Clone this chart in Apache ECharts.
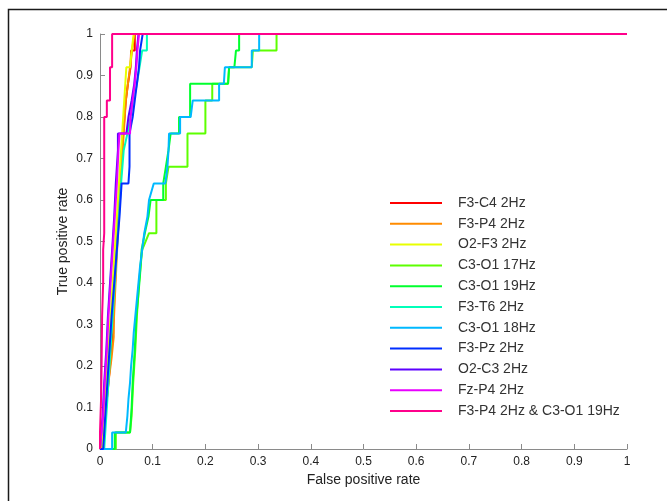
<!DOCTYPE html>
<html lang="en">
<head>
    <meta charset="UTF-8">
    <title>ROC curves</title>
    <script src="https://cdn.jsdelivr.net/npm/echarts@6/dist/echarts.min.js"></script>
    <style>
        html, body { margin: 0; padding: 0; background: #fff; }
        #chart-container { width: 667px; height: 501px; }
    </style>
</head>
<body>
    <div id="chart-container"></div>
    <script>
        // legend names, in plotting order
        var names = ['F3-C4 2Hz', 'F3-P4 2Hz', 'O2-F3 2Hz', 'C3-O1 17Hz', 'C3-O1 19Hz', 'F3-T6 2Hz',
            'C3-O1 18Hz', 'F3-Pz 2Hz', 'O2-C3 2Hz', 'Fz-P4 2Hz', 'F3-P4 2Hz & C3-O1 19Hz'];
        // hsv(11) colours
        var colors = ['#ff0000', '#ff8b00', '#e8ff00', '#5dff00', '#00ff2e', '#00ffb9',
            '#00b9ff', '#002eff', '#5d00ff', '#e800ff', '#ff008b'];

        // [false positive rate, true positive rate]
        var rocF3C4 = [[0, 0], [0.004, 0], [0.007, 0.04], [0.01, 0.08], [0.013, 0.12], [0.016, 0.16], [0.019, 0.2],
            [0.022, 0.24], [0.025, 0.28], [0.027, 0.36], [0.03, 0.44], [0.033, 0.52], [0.036, 0.6], [0.04, 0.68],
            [0.044, 0.76], [0.049, 0.84], [0.053, 0.88], [0.058, 0.92], [0.059, 0.96], [0.066, 0.96], [0.066, 1], [1, 1]];
        var rocF3P4 = [[0, 0], [0.005, 0], [0.01, 0.08], [0.016, 0.16], [0.022, 0.22], [0.026, 0.27], [0.026, 0.3],
            [0.028, 0.36], [0.031, 0.44], [0.034, 0.52], [0.037, 0.6], [0.041, 0.68], [0.045, 0.76], [0.049, 0.84],
            [0.053, 0.88], [0.057, 0.92], [0.061, 0.96], [0.065, 1], [1, 1]];
        var rocO2F3 = [[0, 0], [0.004, 0], [0.008, 0.08], [0.012, 0.16], [0.016, 0.24], [0.02, 0.32], [0.024, 0.4],
            [0.028, 0.48], [0.032, 0.56], [0.036, 0.64], [0.04, 0.72], [0.044, 0.8], [0.048, 0.88], [0.05, 0.92],
            [0.057, 0.92], [0.06, 0.96], [0.064, 1], [1, 1]];
        var roc17Hz = [[0, 0], [0.03, 0], [0.03, 0.04], [0.057, 0.04], [0.06, 0.08], [0.063, 0.16], [0.067, 0.24],
            [0.07, 0.32], [0.074, 0.4], [0.08, 0.48], [0.093, 0.52], [0.107, 0.52], [0.107, 0.6], [0.125, 0.6],
            [0.125, 0.64], [0.13, 0.68], [0.166, 0.68], [0.166, 0.76], [0.2, 0.76], [0.2, 0.84], [0.213, 0.84],
            [0.213, 0.88], [0.243, 0.88], [0.245, 0.92], [0.288, 0.92], [0.29, 0.96], [0.335, 0.96], [0.335, 1], [1, 1]];
        var roc19Hz = [[0, 0], [0.028, 0], [0.028, 0.04], [0.057, 0.04], [0.06, 0.1], [0.062, 0.16], [0.066, 0.24],
            [0.069, 0.32], [0.072, 0.36], [0.076, 0.42], [0.079, 0.48], [0.085, 0.52], [0.092, 0.56], [0.096, 0.6],
            [0.12, 0.6], [0.12, 0.64], [0.125, 0.68], [0.13, 0.72], [0.134, 0.76], [0.15, 0.76], [0.15, 0.8],
            [0.171, 0.8], [0.171, 0.88], [0.243, 0.88], [0.245, 0.92], [0.255, 0.92], [0.258, 0.96], [0.264, 0.96],
            [0.264, 1], [1, 1]];
        var rocF3T6 = [[0, 0], [0.008, 0], [0.012, 0.08], [0.016, 0.16], [0.02, 0.24], [0.024, 0.32], [0.028, 0.4],
            [0.032, 0.48], [0.036, 0.56], [0.04, 0.64], [0.045, 0.72], [0.052, 0.76], [0.058, 0.8], [0.064, 0.84],
            [0.07, 0.88], [0.075, 0.92], [0.08, 0.96], [0.089, 0.96], [0.089, 1], [1, 1]];
        var roc18Hz = [[0, 0], [0.023, 0], [0.023, 0.04], [0.049, 0.04], [0.052, 0.08], [0.054, 0.12], [0.057, 0.16],
            [0.059, 0.2], [0.062, 0.24], [0.064, 0.28], [0.067, 0.32], [0.07, 0.36], [0.073, 0.4], [0.076, 0.44],
            [0.08, 0.48], [0.084, 0.52], [0.09, 0.56], [0.093, 0.6], [0.102, 0.64], [0.124, 0.64], [0.128, 0.68],
            [0.13, 0.72], [0.131, 0.76], [0.152, 0.76], [0.152, 0.8], [0.172, 0.8], [0.176, 0.84], [0.226, 0.84],
            [0.226, 0.88], [0.235, 0.88], [0.237, 0.92], [0.288, 0.92], [0.288, 0.96], [0.302, 0.96], [0.302, 1], [1, 1]];
        var rocF3Pz = [[0, 0], [0.006, 0], [0.01, 0.08], [0.014, 0.16], [0.018, 0.24], [0.022, 0.32], [0.027, 0.4],
            [0.032, 0.48], [0.037, 0.56], [0.041, 0.64], [0.054, 0.64], [0.056, 0.68], [0.056, 0.76], [0.062, 0.8],
            [0.066, 0.84], [0.07, 0.88], [0.074, 0.92], [0.076, 0.96], [0.079, 0.96], [0.081, 1], [1, 1]];
        var rocO2C3 = [[0, 0], [0.002, 0], [0.005, 0.08], [0.008, 0.16], [0.012, 0.24], [0.015, 0.32], [0.019, 0.4],
            [0.023, 0.48], [0.027, 0.56], [0.03, 0.64], [0.034, 0.72], [0.034, 0.76], [0.05, 0.76], [0.054, 0.8],
            [0.06, 0.84], [0.065, 0.88], [0.068, 0.92], [0.07, 0.96], [0.073, 1], [1, 1]];
        var rocFzP4 = [[0, 0], [0.003, 0], [0.006, 0.08], [0.009, 0.16], [0.013, 0.24], [0.016, 0.32], [0.02, 0.4],
            [0.024, 0.48], [0.028, 0.56], [0.032, 0.64], [0.035, 0.72], [0.037, 0.76], [0.057, 0.76], [0.058, 0.8],
            [0.062, 0.84], [0.066, 0.88], [0.069, 0.92], [0.071, 0.96], [0.074, 1], [1, 1]];
        var rocCombined = [[0, 0], [0, 0.04], [0.002, 0.12], [0.003, 0.2], [0.004, 0.32], [0.006, 0.4],
            [0.006, 0.48], [0.008, 0.52], [0.008, 0.8], [0.013, 0.8], [0.013, 0.84], [0.019, 0.84], [0.019, 0.92],
            [0.023, 0.92], [0.023, 1], [1, 1]];

        var curves = [rocF3C4, rocF3P4, rocO2F3, roc17Hz, roc19Hz, rocF3T6, roc18Hz, rocF3Pz, rocO2C3, rocFzP4, rocCombined];

        var chart = echarts.init(document.getElementById('chart-container'));
        var axisGray = '#8a8a8a';
        var font = 'Liberation Sans, Arial, sans-serif';

        var option = {
            animation: false,
            backgroundColor: '#fff',
            textStyle: { fontFamily: font },
            graphic: [{
                type: 'rect',
                shape: { x: 8.5, y: 9.5, width: 700, height: 600 },
                style: { fill: 'none', stroke: '#1a1a1a', lineWidth: 1.5 },
                silent: true
            }],
            grid: { left: 100, right: 40, top: 34, bottom: 52 },
            legend: {
                orient: 'vertical',
                left: 385,
                top: 191,
                height: 280,
                icon: 'rect',
                itemWidth: 52,
                itemHeight: 2,
                itemGap: 6.8,
                textStyle: { fontSize: 14, color: '#333', fontFamily: font, padding: [0, 0, 0, 11] },
                data: names
            },
            xAxis: {
                type: 'value',
                min: 0,
                max: 1,
                interval: 0.1,
                name: 'False positive rate',
                nameLocation: 'middle',
                nameGap: 22,
                nameTextStyle: { fontSize: 14, color: '#222' },
                splitLine: { show: false },
                axisLine: { lineStyle: { color: axisGray, width: 1 } },
                axisTick: { inside: true, length: 5, lineStyle: { color: axisGray } },
                axisLabel: { fontSize: 12, color: '#222', margin: 7 }
            },
            yAxis: {
                type: 'value',
                min: 0,
                max: 1,
                interval: 0.1,
                name: 'True positive rate',
                nameLocation: 'middle',
                nameGap: 30,
                nameMoveOverlap: false,
                nameTextStyle: { fontSize: 14, color: '#222' },
                splitLine: { show: false },
                axisLine: { show: true, lineStyle: { color: axisGray, width: 1 } },
                axisTick: { show: true, inside: true, length: 5, lineStyle: { color: axisGray } },
                axisLabel: { fontSize: 12, color: '#222', margin: 7 }
            },
            series: curves.map(function (pts, i) {
                return {
                    name: names[i],
                    type: 'line',
                    data: pts,
                    symbol: 'none',
                    clip: false,
                    itemStyle: { color: colors[i] },
                    lineStyle: { color: colors[i], width: 2 },
                    z: 2 + i
                };
            })
        };
        chart.setOption(option);
    </script>
</body>
</html>
